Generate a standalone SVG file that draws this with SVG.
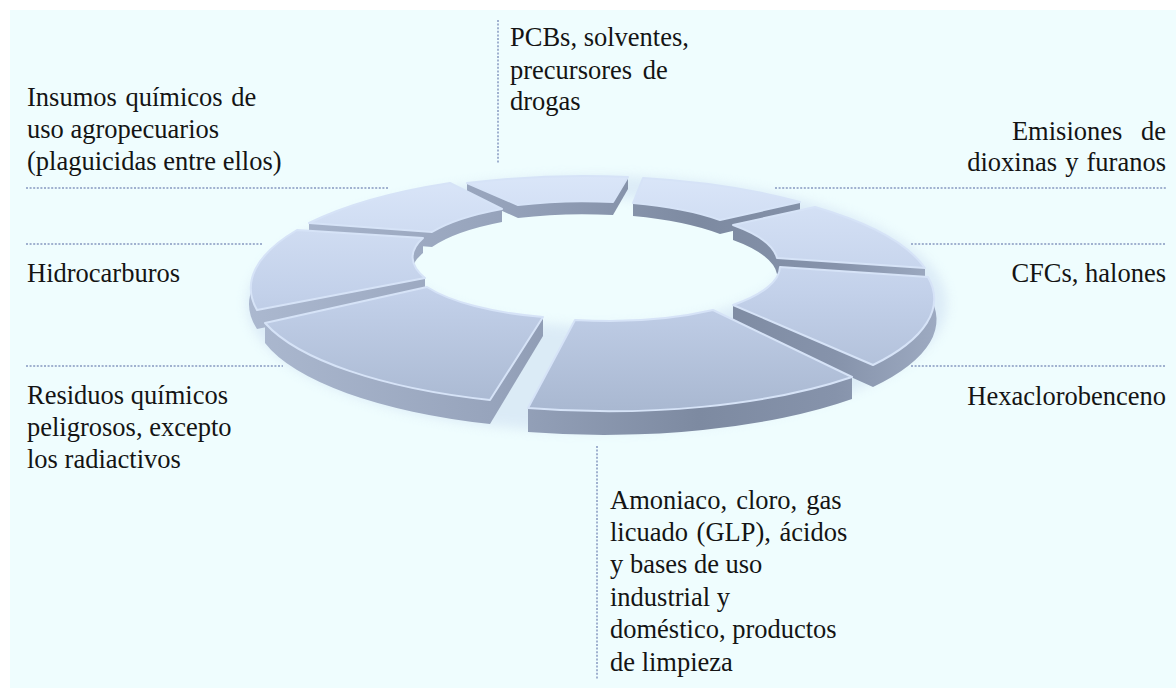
<svg xmlns="http://www.w3.org/2000/svg" width="1176" height="688" viewBox="0 0 1176 688">
  <defs>
    <style>
      .lbl { font-family: "Liberation Serif", "Times New Roman", serif; font-size: 26.5px; fill: #141414; }
      .end { text-anchor: end; }
      .lead { stroke: #a0b1cf; stroke-width: 2; stroke-dasharray: 2 1.6; fill: none; }
      .wall { fill: url(#wallG); }
      .top { fill: url(#topG); stroke: #d6e3f7; stroke-width: 2; stroke-linejoin: round; }
    </style>
    <linearGradient id="wallG" gradientUnits="userSpaceOnUse" x1="250" y1="0" x2="940" y2="0">
      <stop offset="0" stop-color="#abb8cf"/>
      <stop offset="0.35" stop-color="#97a4bc"/>
      <stop offset="0.65" stop-color="#7d8aa1"/>
      <stop offset="0.85" stop-color="#8693ab"/>
      <stop offset="1" stop-color="#9eabc2"/>
    </linearGradient>
    <linearGradient id="topG" gradientUnits="userSpaceOnUse" x1="0" y1="175" x2="0" y2="410">
      <stop offset="0" stop-color="#dae6f9"/>
      <stop offset="0.5" stop-color="#c3d1ea"/>
      <stop offset="1" stop-color="#a9b8d1"/>
    </linearGradient>
    <filter id="soft" x="-20%" y="-30%" width="140%" height="160%">
      <feGaussianBlur stdDeviation="6"/>
    </filter>
  </defs>

  <!-- page background -->
  <rect x="0" y="0" width="1176" height="688" fill="#ffffff"/>
  <rect x="10" y="10" width="1166" height="678" fill="#effdfe"/>

  <!-- soft shadow under the ring -->
  <path d="M247,304 A350,128 0 1 1 947,304 A350,128 0 1 1 247,304 Z M406,262 A190,64 0 1 0 786,262 A190,64 0 1 0 406,262 Z" fill="#c4d6ee" fill-rule="evenodd" opacity="0.45" filter="url(#soft)"/>

  <!-- dotted leader lines -->
  <g id="connectors">
    <line class="lead" x1="26" y1="188" x2="388" y2="188"/>
    <line class="lead" x1="26" y1="244" x2="262" y2="244"/>
    <line class="lead" x1="26" y1="366" x2="283" y2="366"/>
    <line class="lead" x1="498" y1="20" x2="498" y2="163"/>
    <line class="lead" x1="775" y1="188" x2="1166" y2="188"/>
    <line class="lead" x1="911" y1="244" x2="1166" y2="244"/>
    <line class="lead" x1="911" y1="366" x2="1166" y2="366"/>
    <line class="lead" x1="597" y1="446" x2="597" y2="680"/>
  </g>

  <!-- ring segments, back to front -->
  <g id="seg-top">
    <path class="wall" d="M467,183 A343,116 0 0 1 628,177 L628,189 A343,116 0 0 0 467,195 Z"/>
    <path class="wall" d="M613,202 A179,57 0 0 0 518,205 L518,218 A179,57 0 0 1 613,215 Z"/>
    <path class="wall" d="M467,183 L518,205 L518,218 L467,195 Z"/>
    <path class="wall" d="M628,177 L613,202 L613,215 L628,189 Z"/>
    <path class="top" d="M467,183 A343,116 0 0 1 628,177 L613,202 A179,57 0 0 0 518,205 Z"/>
  </g>
  <g id="seg-top-right">
    <path class="wall" d="M643,178 A343,116 0 0 1 800,202 L800,215 A343,116 0 0 0 643,190 Z"/>
    <path class="wall" d="M720,220 A179,57 0 0 0 633,203 L633,216 A179,57 0 0 1 720,234 Z"/>
    <path class="wall" d="M643,178 L633,203 L633,216 L643,190 Z"/>
    <path class="wall" d="M800,202 L720,220 L720,234 L800,215 Z"/>
    <path class="top" d="M643,178 A343,116 0 0 1 800,202 L720,220 A179,57 0 0 0 633,203 Z"/>
  </g>
  <g id="seg-top-left">
    <path class="wall" d="M309,223 A343,116 0 0 1 450,183 L450,195 A343,116 0 0 0 309,237 Z"/>
    <path class="wall" d="M502,209 A179,57 0 0 0 432,232 L432,247 A179,57 0 0 1 502,222 Z"/>
    <path class="wall" d="M309,223 L432,232 L432,247 L309,237 Z"/>
    <path class="wall" d="M450,183 L502,209 L502,222 L450,195 Z"/>
    <path class="top" d="M309,223 A343,116 0 0 1 450,183 L502,209 A179,57 0 0 0 432,232 Z"/>
  </g>
  <g id="seg-right-upper">
    <path class="wall" d="M815,207 A343,116 0 0 1 925,268 L925,285 A343,116 0 0 0 815,221 Z"/>
    <path class="wall" d="M777,258 A179,57 0 0 0 733,225 L733,240 A179,57 0 0 1 777,274 Z"/>
    <path class="wall" d="M815,207 L733,225 L733,240 L815,221 Z"/>
    <path class="wall" d="M925,268 L777,258 L777,274 L925,285 Z"/>
    <path class="top" d="M815,207 A343,116 0 0 1 925,268 L777,258 A179,57 0 0 0 733,225 Z"/>
  </g>
  <g id="seg-left">
    <path class="wall" d="M257,310 A343,116 0 0 1 297,230 L297,245 A343,116 0 0 0 257,329 Z"/>
    <path class="wall" d="M423,238 A179,57 0 0 0 425,278 L425,295 A179,57 0 0 1 423,253 Z"/>
    <path class="wall" d="M257,310 L425,278 L425,295 L257,329 Z"/>
    <path class="wall" d="M297,230 L423,238 L423,253 L297,245 Z"/>
    <path class="top" d="M257,310 A343,116 0 0 1 297,230 L423,238 A179,57 0 0 0 425,278 Z"/>
  </g>
  <g id="seg-right-lower">
    <path class="wall" d="M928,277 A343,116 0 0 1 873,365 L873,387 A343,116 0 0 0 928,294 Z"/>
    <path class="wall" d="M733,305 A179,57 0 0 0 780,267 L780,284 A179,57 0 0 1 733,324 Z"/>
    <path class="wall" d="M928,277 L780,267 L780,284 L928,294 Z"/>
    <path class="wall" d="M873,365 L733,305 L733,324 L873,387 Z"/>
    <path class="top" d="M928,277 A343,116 0 0 1 873,365 L733,305 A179,57 0 0 0 780,267 Z"/>
  </g>
  <g id="seg-front-left">
    <path class="wall" d="M490,400 A343,116 0 0 1 265,323 L265,343 A343,116 0 0 0 490,424 Z"/>
    <path class="wall" d="M427,287 A179,57 0 0 0 543,317 L543,336 A179,57 0 0 1 427,305 Z"/>
    <path class="wall" d="M490,400 L543,317 L543,336 L490,424 Z"/>
    <path class="wall" d="M265,323 L427,287 L427,305 L265,343 Z"/>
    <path class="top" d="M490,400 A343,116 0 0 1 265,323 L427,287 A179,57 0 0 0 543,317 Z"/>
  </g>
  <g id="seg-front-right">
    <path class="wall" d="M852,377 A343,116 0 0 1 528,408 L528,432 A343,116 0 0 0 852,399 Z"/>
    <path class="wall" d="M575,320 A179,57 0 0 0 713,310 L713,329 A179,57 0 0 1 575,339 Z"/>
    <path class="wall" d="M852,377 L713,310 L713,329 L852,399 Z"/>
    <path class="wall" d="M528,408 L575,320 L575,339 L528,432 Z"/>
    <path class="top" d="M852,377 A343,116 0 0 1 528,408 L575,320 A179,57 0 0 0 713,310 Z"/>
  </g>

  <!-- labels -->
  <g id="label-insumos">
    <text class="lbl" x="27" y="106" word-spacing="2">Insumos químicos de</text>
    <text class="lbl" x="27" y="138">uso agropecuarios</text>
    <text class="lbl" x="27" y="170">(plaguicidas entre ellos)</text>
  </g>
  <g id="label-pcbs">
    <text class="lbl" x="510" y="46">PCBs, solventes,</text>
    <text class="lbl" x="510" y="79" word-spacing="4">precursores de</text>
    <text class="lbl" x="510" y="110">drogas</text>
  </g>
  <g id="label-emisiones">
    <text class="lbl end" x="1166" y="140" word-spacing="12">Emisiones de</text>
    <text class="lbl end" x="1166" y="171" word-spacing="1.5">dioxinas y furanos</text>
  </g>
  <g id="label-hidrocarburos">
    <text class="lbl" x="27" y="282">Hidrocarburos</text>
  </g>
  <g id="label-cfcs">
    <text class="lbl end" x="1166" y="282">CFCs, halones</text>
  </g>
  <g id="label-residuos">
    <text class="lbl" x="27" y="404">Residuos químicos</text>
    <text class="lbl" x="27" y="436">peligrosos, excepto</text>
    <text class="lbl" x="27" y="468">los radiactivos</text>
  </g>
  <g id="label-hexaclorobenceno">
    <text class="lbl end" x="1166" y="405">Hexaclorobenceno</text>
  </g>
  <g id="label-amoniaco">
    <text class="lbl" x="610" y="509" word-spacing="2.5">Amoniaco, cloro, gas</text>
    <text class="lbl" x="610" y="541" word-spacing="2">licuado (GLP), ácidos</text>
    <text class="lbl" x="610" y="573">y bases de uso</text>
    <text class="lbl" x="610" y="606">industrial y</text>
    <text class="lbl" x="610" y="638">doméstico, productos</text>
    <text class="lbl" x="610" y="671">de limpieza</text>
  </g>
</svg>
